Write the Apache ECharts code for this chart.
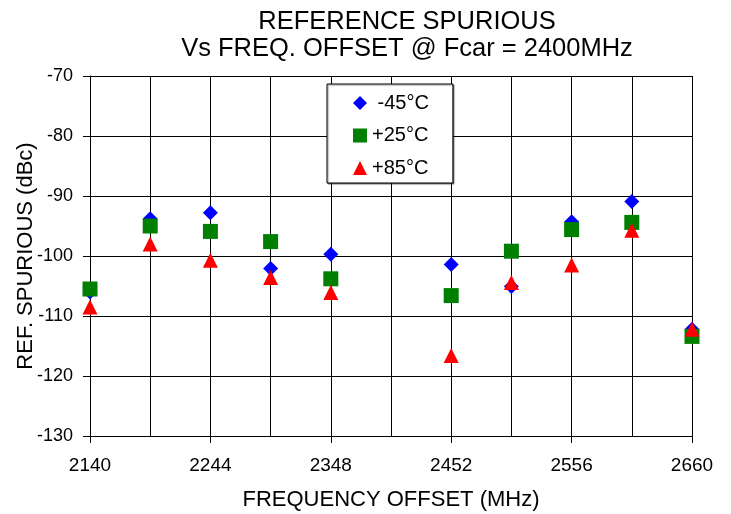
<!DOCTYPE html>
<html>
<head>
<meta charset="utf-8">
<script src="https://cdn.jsdelivr.net/npm/echarts@6/dist/echarts.min.js"></script>
<style>
  html, body { margin: 0; padding: 0; background: #fff; }
  #chart { width: 731px; height: 514px; }
</style>
</head>
<body>
<div id="chart"></div>
<script>
// frequency offsets (MHz), one every 52 MHz
var freqs = ['2140', '2192', '2244', '2296', '2348', '2400', '2452', '2504', '2556', '2608', '2660'];
// reference spurious (dBc) per temperature, null = no measurement
var minus45 = [-106, -93.8, -92.8, -102.1, -99.7, null, -101.4, -105.1, -94.3, -90.9, -112.2];
var plus25 = [-105.5, -95, -95.9, -97.6, -103.8, null, -106.6, -99.2, -95.6, -94.4, -113.4];
var plus85 = [-108.5, -98, -100.7, -103.6, -106.1, null, -116.6, -104.4, -101.5, -95.7, -112.2];

var font = 'Liberation Sans, Arial, sans-serif';
var myChart = echarts.init(document.getElementById('chart'));

var option = {
  backgroundColor: '#fff',
  animation: false,
  textStyle: { fontFamily: font, color: '#000' },
  title: {
    text: 'REFERENCE SPURIOUS\nVs FREQ. OFFSET @ Fcar = 2400MHz',
    left: 402,
    top: 3,
    textAlign: 'center',
    textStyle: {
      fontFamily: font,
      fontSize: 25.5,
      fontWeight: 'normal',
      lineHeight: 27,
      color: '#000'
    }
  },
  legend: {
    orient: 'vertical',
    left: 327,
    top: 84,
    padding: [9, 24, 5, 26],
    itemGap: 12.5,
    itemWidth: 14,
    itemHeight: 14,
    backgroundColor: '#fff',
    borderColor: '#000',
    borderWidth: 1,
    shadowColor: 'rgba(0,0,0,0.45)',
    shadowOffsetX: 1,
    shadowOffsetY: 1,
    shadowBlur: 1,
    formatter: function (name) {
      // labels sit right-aligned in the box
      return name.charAt(0) === '-' ? ' ' + name : name;
    },
    textStyle: { fontFamily: font, fontSize: 20, lineHeight: 20, color: '#000' },
    data: ['-45°C', '+25°C', '+85°C']
  },
  grid: {
    left: 90,
    right: 39,
    top: 76,
    bottom: 78,
    containLabel: false,
    outerBoundsMode: 'none'
  },
  xAxis: {
    type: 'category',
    data: freqs,
    boundaryGap: false,
    name: 'FREQUENCY OFFSET (MHz)',
    nameLocation: 'middle',
    nameGap: 53,
    nameMoveOverlap: false,
    nameTextStyle: { fontFamily: font, fontSize: 22, color: '#000' },
    axisLine: { lineStyle: { color: '#000', width: 1 } },
    axisTick: { show: true, interval: 1, length: 7, lineStyle: { color: '#000' } },
    axisLabel: { interval: 1, fontSize: 19, margin: 20, color: '#000', fontFamily: font },
    splitLine: { show: true, interval: 0, lineStyle: { color: '#000', width: 1 } }
  },
  yAxis: {
    type: 'value',
    min: -130,
    max: -70,
    interval: 10,
    name: 'REF. SPURIOUS (dBc)',
    nameLocation: 'middle',
    nameGap: 53,
    nameMoveOverlap: false,
    nameTextStyle: { fontFamily: font, fontSize: 22, color: '#000' },
    axisLine: { show: true, lineStyle: { color: '#000', width: 1 } },
    axisTick: { show: true, length: 7, lineStyle: { color: '#000' } },
    axisLabel: { fontSize: 18, margin: 17, color: '#000', fontFamily: font },
    splitLine: { show: true, lineStyle: { color: '#000', width: 1 } }
  },
  series: [
    {
      name: '-45°C',
      type: 'scatter',
      symbol: 'diamond',
      symbolSize: 15,
      itemStyle: { color: '#0000ff', opacity: 1 },
      data: minus45
    },
    {
      name: '+25°C',
      type: 'scatter',
      symbol: 'rect',
      symbolSize: 15,
      itemStyle: { color: '#008000', opacity: 1 },
      data: plus25
    },
    {
      name: '+85°C',
      type: 'scatter',
      symbol: 'triangle',
      symbolSize: 15,
      itemStyle: { color: '#ff0000', opacity: 1 },
      data: plus85
    }
  ]
};

myChart.setOption(option);
</script>
</body>
</html>
